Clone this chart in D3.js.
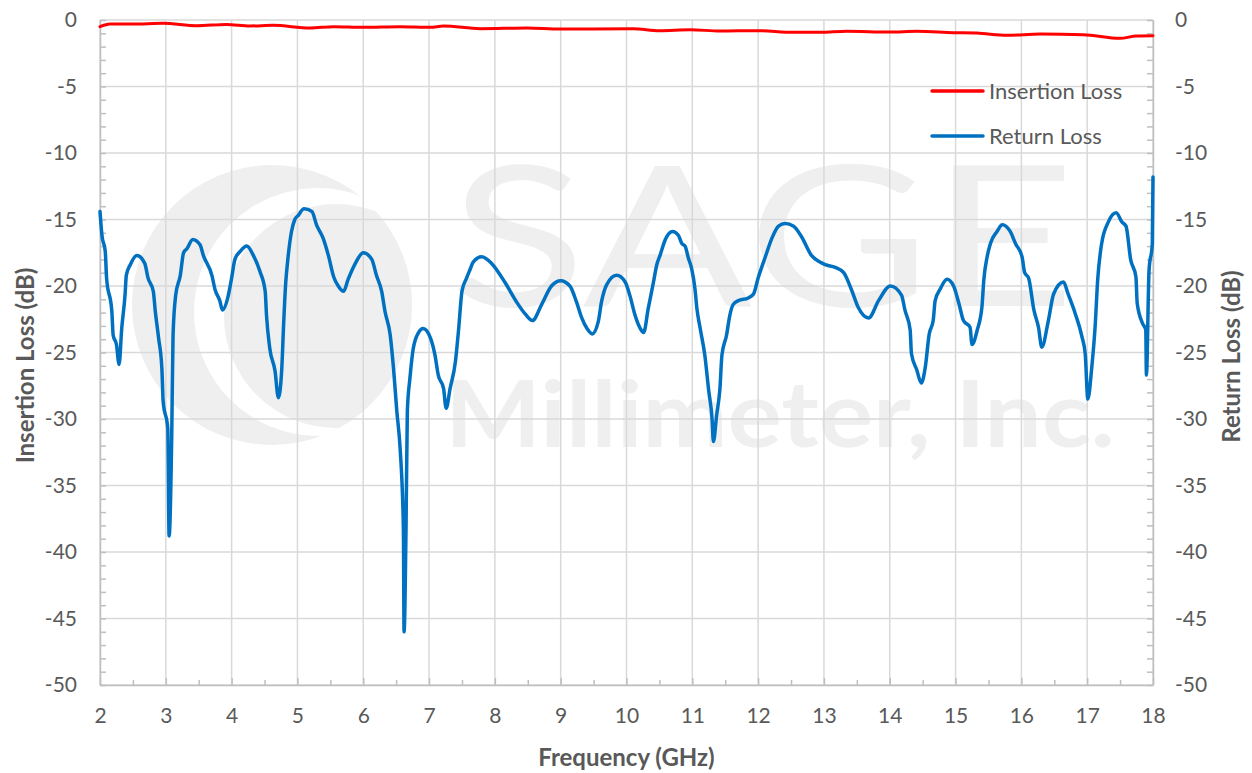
<!DOCTYPE html>
<html>
<head>
<meta charset="utf-8">
<script src="https://cdn.jsdelivr.net/npm/d3@7"></script>
<style>
  html, body { margin: 0; padding: 0; background: #fff; }
  svg { display: block; }
  text { font-family: Lato, "Open Sans", sans-serif; }
</style>
</head>
<body>
<svg id="chart" width="1252" height="773"></svg>
<script>
// ---------- data ----------
const xTicks = [2,3,4,5,6,7,8,9,10,11,12,13,14,15,16,17,18];
const yTicks = [0,-5,-10,-15,-20,-25,-30,-35,-40,-45,-50];

const ilFreq = [2.0,2.15,2.5,2.96,3.47,3.92,4.28,4.63,5.19,5.55,6.0,6.56,7.02,7.22,7.78,8.49,8.99,10.1,10.5,10.97,11.42,11.98,12.54,12.94,13.35,14.0,14.41,14.97,15.32,15.78,16.29,16.94,17.5,17.75,18.0];
const ilVal  = [-0.50,-0.30,-0.30,-0.25,-0.43,-0.33,-0.45,-0.40,-0.60,-0.50,-0.55,-0.50,-0.55,-0.45,-0.65,-0.60,-0.68,-0.65,-0.80,-0.73,-0.83,-0.80,-0.93,-0.93,-0.85,-0.90,-0.85,-0.95,-0.98,-1.15,-1.05,-1.10,-1.38,-1.20,-1.18];

const rlFreq = [2.00,2.03,2.08,2.10,2.18,2.20,2.25,2.29,2.33,2.38,2.40,2.46,2.56,2.68,2.73,2.81,2.84,2.89,2.94,2.96,3.03,3.05,3.09,3.11,3.15,3.22,3.27,3.32,3.41,3.52,3.57,3.70,3.75,3.82,3.86,3.95,4.00,4.05,4.13,4.23,4.33,4.43,4.51,4.53,4.58,4.66,4.71,4.76,4.79,4.82,4.85,4.91,4.96,5.01,5.10,5.22,5.29,5.39,5.47,5.55,5.62,5.70,5.77,5.88,6.00,6.13,6.20,6.28,6.33,6.41,6.46,6.51,6.56,6.61,6.62,6.65,6.67,6.71,6.76,6.84,6.91,7.02,7.09,7.14,7.22,7.26,7.32,7.40,7.45,7.50,7.57,7.62,7.67,7.80,7.95,8.15,8.33,8.46,8.57,8.71,8.86,9.00,9.14,9.24,9.32,9.40,9.48,9.57,9.62,9.70,9.85,9.98,10.05,10.13,10.21,10.26,10.33,10.41,10.46,10.51,10.59,10.70,10.79,10.84,10.89,10.94,10.99,11.04,11.07,11.12,11.19,11.25,11.30,11.32,11.37,11.42,11.45,11.52,11.57,11.62,11.70,11.85,11.93,12.00,12.11,12.21,12.31,12.41,12.54,12.66,12.81,12.94,13.02,13.17,13.30,13.42,13.52,13.68,13.83,14.01,14.18,14.23,14.31,14.33,14.41,14.48,14.54,14.60,14.66,14.69,14.77,14.87,14.97,15.05,15.12,15.22,15.25,15.33,15.40,15.43,15.48,15.53,15.63,15.71,15.83,15.91,16.01,16.05,16.11,16.19,16.26,16.31,16.41,16.49,16.64,16.71,16.82,16.92,16.97,17.01,17.07,17.12,17.16,17.22,17.32,17.44,17.53,17.59,17.66,17.74,17.76,17.84,17.89,17.90,17.94,17.99,18.00];
const rlVal  = [-14.4,-16.2,-17.4,-19.4,-21.9,-23.7,-24.4,-25.9,-23.2,-20.7,-19.2,-18.4,-17.7,-18.3,-19.4,-20.4,-21.9,-23.9,-26.2,-28.7,-30.7,-38.8,-31.2,-23.7,-20.7,-19.2,-17.5,-17.2,-16.5,-16.9,-17.7,-19.2,-20.3,-21.1,-21.8,-20.7,-19.4,-18.0,-17.4,-17.0,-17.7,-18.9,-20.4,-22.2,-24.7,-26.4,-28.4,-26.4,-22.9,-19.9,-18.2,-15.9,-15.0,-14.7,-14.2,-14.4,-15.4,-16.4,-17.7,-19.3,-20.0,-20.4,-19.5,-18.3,-17.5,-18.0,-19.2,-20.4,-21.9,-23.7,-26.2,-29.4,-32.2,-38.2,-46.0,-38.2,-29.4,-26.9,-24.7,-23.5,-23.2,-23.9,-25.2,-26.7,-27.7,-29.2,-27.7,-25.7,-23.2,-20.4,-19.4,-18.8,-18.2,-17.8,-18.3,-19.7,-21.2,-22.1,-22.6,-21.4,-20.0,-19.6,-20.0,-21.2,-22.4,-23.2,-23.6,-22.7,-21.2,-19.9,-19.2,-19.7,-20.7,-22.2,-23.2,-23.5,-21.7,-19.7,-18.4,-17.7,-16.5,-15.9,-16.2,-16.8,-17.0,-17.9,-18.7,-20.2,-21.7,-23.2,-25.2,-27.9,-30.0,-31.7,-29.7,-27.7,-25.2,-23.7,-22.2,-21.4,-21.1,-20.9,-20.6,-19.4,-17.8,-16.4,-15.5,-15.3,-15.5,-16.3,-17.7,-18.2,-18.4,-18.6,-19.0,-20.3,-21.6,-22.4,-21.1,-20.0,-20.7,-21.8,-23.3,-25.1,-26.3,-27.3,-26.1,-23.6,-22.6,-21.1,-20.2,-19.5,-20.0,-21.3,-22.6,-23.1,-24.4,-23.3,-21.6,-19.5,-17.8,-16.8,-15.9,-15.4,-15.9,-16.8,-17.8,-19.0,-19.4,-21.8,-23.1,-24.6,-22.6,-20.6,-19.7,-20.6,-22.1,-23.8,-25.1,-28.5,-26.1,-23.1,-19.5,-16.8,-15.2,-14.5,-15.2,-15.5,-18.0,-19.3,-21.3,-22.8,-23.3,-26.7,-18.8,-16.8,-11.8];

const seriesNames = ["Insertion Loss", "Return Loss"];
const seriesColors = ["#ff0000", "#0070c0"];

// ---------- layout ----------
const L = 100, R = 1153, T = 20, B = 685;
const svg = d3.select("#chart");
const x = d3.scaleLinear().domain([2, 18]).range([L, R]);
const y = d3.scaleLinear().domain([-50, 0]).range([B, T]);
const fmt = d => String(d);

// ---------- watermark ----------
const wm = svg.append("g").attr("fill", "#efefef");
const defs = svg.append("defs");
defs.append("clipPath").attr("id", "logoClip")
  .append("circle").attr("cx", 272).attr("cy", 305).attr("r", 140);
wm.append("circle").attr("cx", 272).attr("cy", 305).attr("r", 140);
const lg = wm.append("g").attr("clip-path", "url(#logoClip)");
lg.append("circle").attr("cx", 318).attr("cy", 312).attr("r", 124).attr("fill", "#fff");
lg.append("circle").attr("cx", 336).attr("cy", 316).attr("r", 112).attr("fill", "#efefef");
wm.append("text").attr("x", 450).attr("y", 306)
  .attr("font-size", 196).attr("font-weight", 400)
  .attr("textLength", 625).attr("lengthAdjust", "spacingAndGlyphs")
  .text("SAGE");
wm.append("text").attr("x", 445).attr("y", 447)
  .attr("font-size", 92).attr("font-weight", 700)
  .attr("textLength", 670).attr("lengthAdjust", "spacingAndGlyphs")
  .text("Millimeter, Inc.");

// ---------- grid ----------
const grid = svg.append("g").attr("stroke", "#d9d9d9").attr("stroke-width", 1.5);
grid.selectAll("line.v").data(xTicks).join("line")
  .attr("x1", d => x(d)).attr("x2", d => x(d)).attr("y1", T).attr("y2", B);
grid.selectAll("line.h").data(yTicks).join("line")
  .attr("x1", L).attr("x2", R).attr("y1", d => y(d)).attr("y2", d => y(d));

// ---------- axes ----------
const axisColor = "#bfbfbf";
const minorY = d3.range(-50, 1, 1);
const minorX = d3.range(2.5, 18, 1);

function styleAxis(g) {
  g.select(".domain").attr("stroke", axisColor).attr("stroke-width", 1.5);
  g.selectAll(".tick line").attr("stroke", axisColor).attr("stroke-width", 1.5);
  g.selectAll(".tick text").attr("fill", "#595959").attr("font-size", 21)
    .attr("font-family", "Lato, sans-serif");
}

// bottom axis
const gx = svg.append("g").attr("transform", `translate(0,${B})`)
  .call(d3.axisBottom(x).tickValues(xTicks).tickFormat(fmt).tickSize(-7).tickSizeOuter(0));
styleAxis(gx);
gx.selectAll(".tick text").attr("dy", "0").attr("y", 38);
svg.append("g").attr("transform", `translate(0,${B})`)
  .call(d3.axisBottom(x).tickValues(minorX).tickFormat("").tickSize(-5).tickSizeOuter(0))
  .call(g => { g.select(".domain").remove(); g.selectAll(".tick line").attr("stroke", axisColor).attr("stroke-width", 1.5); });

// left axis
const gl = svg.append("g").attr("transform", `translate(${L},0)`)
  .call(d3.axisLeft(y).tickValues(yTicks).tickFormat(fmt).tickSize(0).tickSizeOuter(0).tickPadding(23));
styleAxis(gl);
svg.append("g").attr("transform", `translate(${L},0)`)
  .call(d3.axisRight(y).tickValues(minorY).tickFormat("").tickSize(6).tickSizeOuter(0))
  .call(g => { g.select(".domain").remove(); g.selectAll(".tick line").attr("stroke", axisColor).attr("stroke-width", 1.5); });

// right axis
const gr = svg.append("g").attr("transform", `translate(${R},0)`)
  .call(d3.axisRight(y).tickValues(yTicks).tickFormat(fmt).tickSize(0).tickSizeOuter(0).tickPadding(22));
styleAxis(gr);
svg.append("g").attr("transform", `translate(${R},0)`)
  .call(d3.axisLeft(y).tickValues(minorY).tickFormat("").tickSize(6).tickSizeOuter(0))
  .call(g => { g.select(".domain").remove(); g.selectAll(".tick line").attr("stroke", axisColor).attr("stroke-width", 1.5); });

// ---------- lines ----------
const line = d3.line().x(d => x(d[0])).y(d => y(d[1])).curve(d3.curveMonotoneX);
const il = d3.zip(ilFreq, ilVal);
const rl = d3.zip(rlFreq, rlVal);
svg.append("path").datum(rl).attr("d", line)
  .attr("fill", "none").attr("stroke", seriesColors[1]).attr("stroke-width", 3.5)
  .attr("stroke-linejoin", "round").attr("stroke-linecap", "round");
svg.append("path").datum(il).attr("d", line)
  .attr("fill", "none").attr("stroke", seriesColors[0]).attr("stroke-width", 3)
  .attr("stroke-linejoin", "round").attr("stroke-linecap", "round");

// ---------- axis titles ----------
svg.append("text").attr("x", (L + R) / 2).attr("y", 766)
  .attr("text-anchor", "middle").attr("font-size", 24).attr("font-weight", 700)
  .attr("fill", "#595959").text("Frequency (GHz)");
svg.append("text").attr("transform", `translate(34,${(T + B) / 2 + 13}) rotate(-90)`)
  .attr("text-anchor", "middle").attr("font-size", 24).attr("font-weight", 700)
  .attr("fill", "#595959").text("Insertion Loss (dB)");
svg.append("text").attr("transform", `translate(1240,${(T + B) / 2 + 4}) rotate(-90)`)
  .attr("text-anchor", "middle").attr("font-size", 24).attr("font-weight", 700)
  .attr("fill", "#595959").text("Return Loss (dB)");

// ---------- legend ----------
const legendY = [91, 136];
const lgG = svg.append("g");
seriesNames.forEach((name, i) => {
  lgG.append("line").attr("x1", 932).attr("x2", 983).attr("y1", legendY[i]).attr("y2", legendY[i])
    .attr("stroke", seriesColors[i]).attr("stroke-width", 3.5).attr("stroke-linecap", "round");
  lgG.append("text").attr("x", 989).attr("y", legendY[i] + 8)
    .attr("font-size", 22).attr("fill", "#595959").text(name);
});
</script>
</body>
</html>
